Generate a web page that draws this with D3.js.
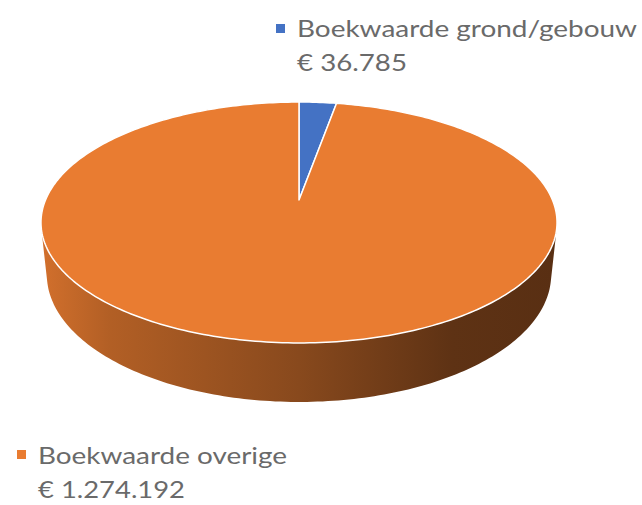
<!DOCTYPE html>
<html>
<head>
<meta charset="utf-8">
<script src="https://cdn.jsdelivr.net/npm/d3@7"></script>
<style>
  html, body { margin: 0; padding: 0; background: #ffffff; }
  svg { display: block; }
</style>
</head>
<body>
<svg id="chart" width="642" height="505"></svg>
<script>
// Book values (euro)
const categories = ["Boekwaarde grond/gebouw", "Boekwaarde overige"];
const values = [36785, 1274192];
const valueLabels = ["€ 36.785", "€ 1.274.192"];
const sliceColors = ["#4472C4", "#E97C31"];

const svg = d3.select("#chart");

// Perspective view of a unit-radius disc
const tilt = 27.3 * Math.PI / 180;
const dist = 4.76;
const focal = 1206.6;
const thickness = 0.2332;
const cx = 299, cy = 200;

function project(a, r, h) {
  const u = r * Math.sin(a), v = r * Math.cos(a);
  const z = dist + v * Math.cos(tilt) - h * Math.sin(tilt);
  return [cx + focal * u / z, cy + focal * (-v * Math.sin(tilt) - h * Math.cos(tilt)) / z];
}

const pie = d3.pie().sort(null).value(d => d.value);
const arcs = pie(categories.map((c, i) => ({ name: c, value: values[i], color: sliceColors[i] })));

const line = d3.line();

function sampleAngles(a0, a1) {
  const n = Math.max(2, Math.ceil((a1 - a0) / (Math.PI / 180)) + 1);
  return d3.range(n).map(i => a0 + (a1 - a0) * i / (n - 1));
}

// Outer wall is visible where its normal faces the camera
const camLimit = Math.acos(-1 / (dist * Math.cos(tilt)));
const visLo = camLimit, visHi = 2 * Math.PI - camLimit;

const xLeft = project(-Math.PI / 2, 1, 0)[0] - 2;
const xRight = project(Math.PI / 2, 1, 0)[0] + 2;

const defs = svg.append("defs");
// Horizontal shading of the side wall
const shade = [[0, 0.3], [0.13, 0.75], [0.5, 1.5], [0.8, 2.55], [1, 2.7]];
arcs.forEach((d, i) => {
  const g = defs.append("linearGradient")
    .attr("id", "wall" + i)
    .attr("gradientUnits", "userSpaceOnUse")
    .attr("x1", xLeft).attr("x2", xRight)
    .attr("y1", 0).attr("y2", 0);
  shade.forEach(([o, k]) => {
    g.append("stop").attr("offset", o).attr("stop-color", d3.color(d.data.color).darker(k).formatHex());
  });
});

const walls = svg.append("g");
arcs.forEach((d, i) => {
  const a0 = Math.max(d.startAngle, visLo), a1 = Math.min(d.endAngle, visHi);
  if (a1 <= a0) return;
  const ang = sampleAngles(a0, a1);
  const pts = ang.map(a => project(a, 1, 0)).concat(ang.slice().reverse().map(a => project(a, 1, -thickness)));
  walls.append("path")
    .attr("d", line(pts) + "Z")
    .attr("fill", `url(#wall${i})`);
});

const tops = svg.append("g");
arcs.forEach(d => {
  const pts = [project(0, 0, 0)].concat(sampleAngles(d.startAngle, d.endAngle).map(a => project(a, 1, 0)));
  tops.append("path")
    .attr("d", line(pts) + "Z")
    .attr("fill", d.data.color)
    .attr("stroke", "#ffffff")
    .attr("stroke-width", 1.5)
    .attr("stroke-linejoin", "round");
});

// Data labels with legend key
const labelPos = [
  { x: 297, y: 37, w1: 340, w2: 110, keyX: 276, keyY: 24 },
  { x: 38, y: 464, w1: 249, w2: 147, keyX: 17, keyY: 450 }
];
const labels = svg.append("g")
  .attr("font-family", "Lato, 'Open Sans', sans-serif")
  .attr("font-size", 24)
  .attr("fill", "#6a6a6a");

arcs.forEach((d, i) => {
  const p = labelPos[i];
  labels.append("rect")
    .attr("x", p.keyX).attr("y", p.keyY)
    .attr("width", 9).attr("height", 9)
    .attr("fill", d.data.color);
  labels.append("text")
    .attr("x", p.x).attr("y", p.y)
    .attr("textLength", p.w1).attr("lengthAdjust", "spacingAndGlyphs")
    .text(d.data.name);
  labels.append("text")
    .attr("x", p.x).attr("y", p.y + 34)
    .attr("textLength", p.w2).attr("lengthAdjust", "spacingAndGlyphs")
    .text(valueLabels[i]);
});
</script>
</body>
</html>
